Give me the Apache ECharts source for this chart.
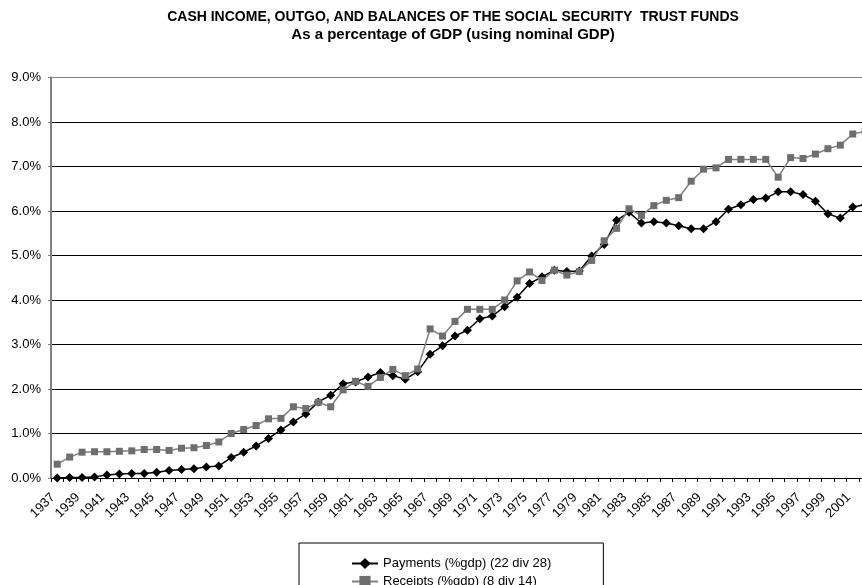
<!DOCTYPE html>
<html>
<head>
<meta charset="utf-8">
<script src="https://cdn.jsdelivr.net/npm/echarts@6/dist/echarts.min.js"></script>
<style>
html,body{margin:0;padding:0;background:#fff;}
#chart{width:862px;height:585px;}
</style>
</head>
<body>
<div id="chart"></div>
<script>
const years = [];
for (let y = 1937; y <= 2002; y++) years.push(String(y));

const payments = [
  0.00, 0.01, 0.01, 0.02, 0.07, 0.09, 0.10, 0.10, 0.13, 0.17,
  0.19, 0.21, 0.25, 0.27, 0.46, 0.58, 0.72, 0.89, 1.08, 1.26,
  1.44, 1.71, 1.86, 2.12, 2.16, 2.27, 2.37, 2.30, 2.22, 2.39,
  2.78, 2.97, 3.19, 3.32, 3.58, 3.64, 3.85, 4.06, 4.37, 4.52,
  4.67, 4.64, 4.65, 4.99, 5.25, 5.79, 5.97, 5.73, 5.76, 5.73,
  5.67, 5.60, 5.60, 5.76, 6.04, 6.14, 6.26, 6.29, 6.43, 6.43,
  6.37, 6.22, 5.94, 5.84, 6.09, 6.14
];

const receipts = [
  0.31, 0.47, 0.58, 0.59, 0.59, 0.60, 0.61, 0.64, 0.64, 0.62,
  0.67, 0.68, 0.73, 0.81, 1.00, 1.09, 1.18, 1.33, 1.34, 1.60,
  1.56, 1.70, 1.60, 1.98, 2.17, 2.06, 2.26, 2.44, 2.30, 2.45,
  3.35, 3.19, 3.52, 3.79, 3.79, 3.79, 4.00, 4.43, 4.63, 4.44,
  4.67, 4.56, 4.64, 4.89, 5.33, 5.61, 6.05, 5.90, 6.12, 6.24,
  6.30, 6.67, 6.94, 6.97, 7.16, 7.16, 7.16, 7.16, 6.76, 7.20,
  7.18, 7.28, 7.40, 7.48, 7.73, 7.79
];

const titleLines = [
  'CASH INCOME, OUTGO, AND BALANCES OF THE SOCIAL SECURITY  TRUST FUNDS',
  'As a percentage of GDP (using nominal GDP)'
];
const seriesNames = ['Payments (%gdp) (22 div 28)', 'Receipts (%gdp) (8 div 14)'];

const FONT = '"Liberation Sans", Arial, sans-serif';
const chart = echarts.init(document.getElementById('chart'), null, {renderer: 'canvas'});

const gridColors = ['#000','#000','#000','#000','#000','#000','#000','#000','#000','#808080'];

chart.setOption({
  animation: false,
  backgroundColor: '#fff',
  title: {
    text: '{a|' + titleLines[0] + '}\n{b|' + titleLines[1] + '}',
    left: 448,
    textAlign: 'center',
    top: 3,
    textStyle: {
      fontFamily: FONT, fontWeight: 'bold', color: '#000',
      rich: {
        a: {fontFamily: FONT, fontSize: 14, fontWeight: 'bold', color: '#000', lineHeight: 18},
        b: {fontFamily: FONT, fontSize: 15, fontWeight: 'bold', color: '#000', lineHeight: 18}
      }
    }
  },
  legend: {
    orient: 'vertical',
    left: 299,
    top: 543,
    height: 80,
    padding: [14, 52, 8, 52],
    itemGap: 5,
    itemWidth: 26,
    itemHeight: 14,
    borderColor: '#000',
    borderWidth: 1,
    textStyle: {fontFamily: FONT, fontSize: 13, color: '#000'},
    data: seriesNames
  },
  grid: {
    left: 51,
    top: 77.5,
    width: 820.4,
    height: 400.5,
    outerBoundsMode: 'none',
    containLabel: false,
    show: false
  },
  xAxis: {
    type: 'category',
    data: years,
    boundaryGap: true,
    axisLine: {show: true, lineStyle: {color: '#000', width: 1}},
    axisTick: {show: true, interval: 0, length: 4, lineStyle: {color: '#000'}},
    axisLabel: {
      interval: 1, rotate: 45, margin: 13, padding: [0, 6, 0, 0],
      fontFamily: FONT, fontSize: 13, color: '#000'
    },
    splitLine: {show: false}
  },
  yAxis: {
    type: 'value',
    min: 0, max: 9, interval: 1,
    axisLine: {show: true, lineStyle: {color: '#808080', width: 2}},
    axisTick: {show: true, length: 3, lineStyle: {color: '#808080'}},
    axisLabel: {
      margin: 10,
      fontFamily: FONT, fontSize: 13, color: '#000',
      formatter: v => v.toFixed(1) + '%'
    },
    splitLine: {show: true, lineStyle: {color: gridColors, width: 1}}
  },
  series: [
    {
      name: seriesNames[0],
      type: 'line',
      data: payments,
      symbol: 'diamond',
      symbolSize: 9,
      showAllSymbol: true,
      z: 2,
      lineStyle: {color: '#000', width: 1.5},
      itemStyle: {color: '#000'}
    },
    {
      name: seriesNames[1],
      type: 'line',
      data: receipts,
      symbol: 'rect',
      symbolSize: 7,
      showAllSymbol: true,
      z: 3,
      lineStyle: {color: '#808080', width: 1.5},
      itemStyle: {color: '#6e6e6e'}
    }
  ]
});
</script>
</body>
</html>
